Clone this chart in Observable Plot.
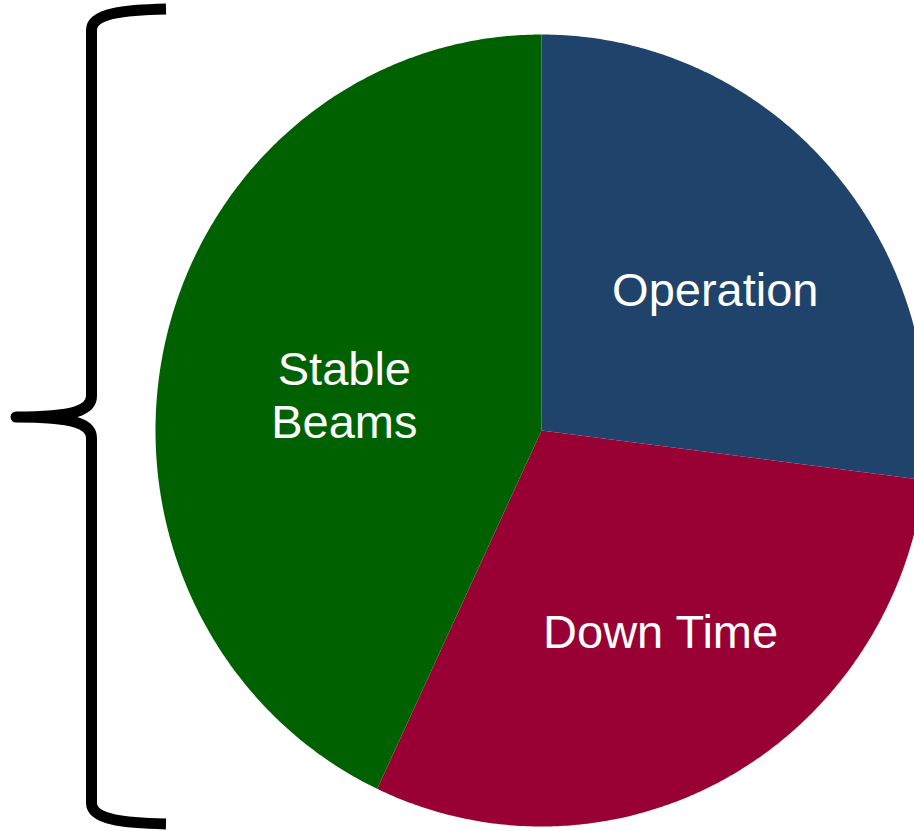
<!DOCTYPE html>
<html>
<head>
<meta charset="utf-8">
<script src="https://cdn.jsdelivr.net/npm/d3@7"></script>
<script src="https://cdn.jsdelivr.net/npm/@observablehq/plot@0.6"></script>
<style>
  html, body { margin: 0; padding: 0; background: #fff; overflow: hidden; }
  #chart svg { display: block; }
</style>
</head>
<body>
<div id="chart"></div>
<script>
// Share of time per machine state (percent)
const names = ["Operation", "Down Time", "Stable Beams"];
const shares = [27, 30, 43];
const labels = ["Operation", "Down Time", "Stable\nBeams"];
const colors = ["#1f436a", "#990033", "#006100"];

// Label placement: fraction of the radius along each slice's mid-angle, plus a small nudge
const labelRadius = {"Operation": 0.576, "Down Time": 0.592, "Stable Beams": 0.518};
const labelNudge = {"Operation": [7, 9], "Down Time": [9, -5], "Stable Beams": [-2, 9]};

// Slice angles, clockwise from 12 o'clock
const pie = d3.pie().sort(null).value(d => d)(shares);

// Each slice as a closed polygon: centre, arc points, centre
function slicePolygon(a0, a1) {
  const pts = [{x: 0, y: 0}];
  const n = Math.max(2, Math.ceil((a1 - a0) / (Math.PI / 360)));
  for (let i = 0; i <= n; i++) {
    const a = a0 + (a1 - a0) * i / n;
    pts.push({x: Math.sin(a), y: Math.cos(a)});
  }
  pts.push({x: 0, y: 0});
  return pts;
}

const sliceMarks = pie.map((p, i) =>
  Plot.line(slicePolygon(p.startAngle, p.endAngle), {
    x: "x", y: "y", fill: colors[i], stroke: "none", curve: "linear"
  })
);

const labelData = pie.map((p, i) => {
  const mid = (p.startAngle + p.endAngle) / 2;
  const r = labelRadius[names[i]];
  return {name: names[i], text: labels[i], x: r * Math.sin(mid), y: r * Math.cos(mid)};
});

const labelMarks = labelData.map(d =>
  Plot.text([d], {
    x: "x", y: "y", text: "text",
    dx: labelNudge[d.name][0], dy: labelNudge[d.name][1],
    fill: "white", fontSize: 47, lineHeight: 1.12,
    fontFamily: "Liberation Sans, Arial, sans-serif",
    textAnchor: "middle"
  })
);

// Curly brace grouping the whole pie on the left
function brace() {
  const path = d3.create("svg:path")
    .attr("d",
      "M166,9 C125,10 91.5,13 91.5,30 L91.5,396 " +
      "C91.5,410 75,417 16,417 C75,417 91.5,424 91.5,438 " +
      "L91.5,803 C91.5,820 125,823 166,824")
    .attr("fill", "none")
    .attr("stroke", "black")
    .attr("stroke-width", 11)
    .attr("stroke-linejoin", "round");
  return path.node();
}

const chart = Plot.plot({
  width: 914,
  height: 831,
  margin: 0,
  x: {domain: [-1, 1], range: [155, 927], axis: null},
  y: {domain: [-1, 1], range: [826, 34], axis: null},
  style: {background: "white", fontFamily: "Liberation Sans, Arial, sans-serif"},
  marks: [
    ...sliceMarks,
    ...labelMarks,
    brace
  ]
});

document.getElementById("chart").appendChild(chart);
</script>
</body>
</html>
